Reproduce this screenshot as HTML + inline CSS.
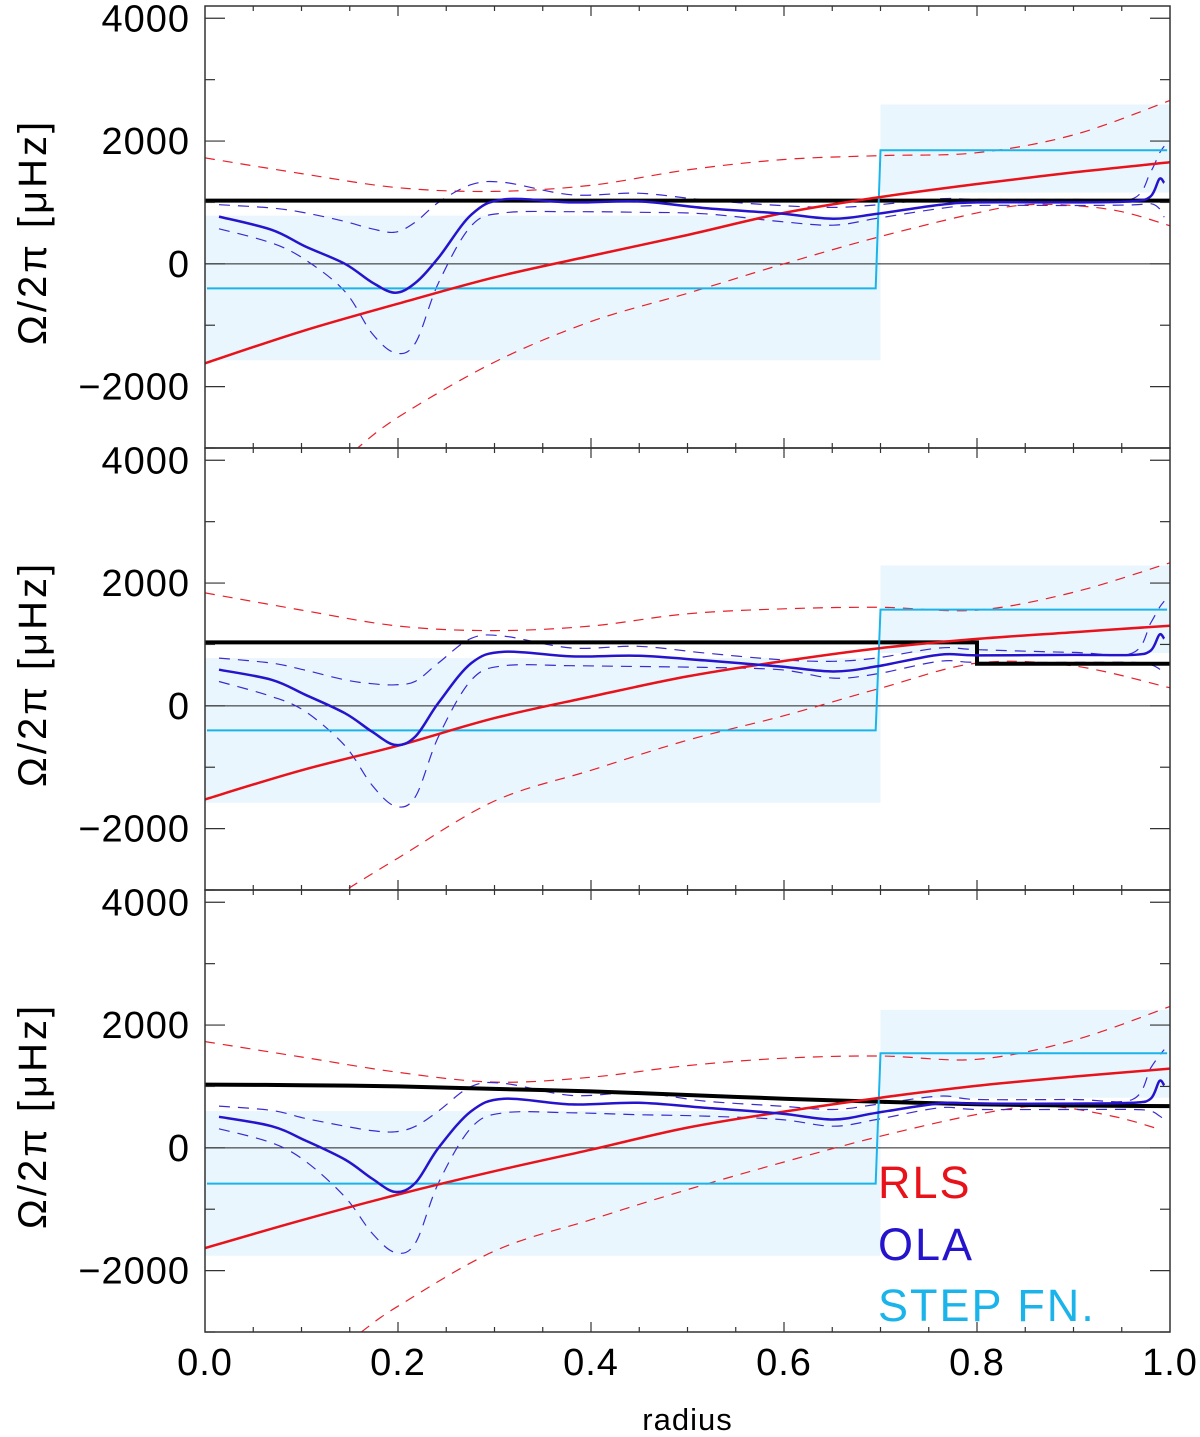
<!DOCTYPE html>
<html><head><meta charset="utf-8"><style>
html,body{margin:0;padding:0;background:#fff;}
svg{display:block;font-family:"Liberation Sans",sans-serif;}
</style></head><body>
<svg id="chart" width="1200" height="1437" viewBox="0 0 1200 1437" xmlns="http://www.w3.org/2000/svg">
<defs>
<clipPath id="clip0"><rect x="205" y="6" width="965" height="442"/></clipPath>
<clipPath id="clip1"><rect x="205" y="448" width="965" height="442"/></clipPath>
<clipPath id="clip2"><rect x="205" y="890" width="965" height="442"/></clipPath>
</defs>
</svg>
<script>
// ---- data ----
const yTickValues = [4000, 2000, 0, -2000];
const yTickLabels = ["4000", "2000", "0", "\u22122000"];
const yMinorValues = [3000, 1000, -1000, -3000];
const xTickValues = [0.0, 0.2, 0.4, 0.6, 0.8, 1.0];
const xTickLabels = ["0.0", "0.2", "0.4", "0.6", "0.8", "1.0"];

const olaR = [0.0145,0.069,0.104,0.145,0.173,0.197,0.218,0.242,0.276,0.31,0.38,0.449,0.518,0.596,0.651,0.696,0.761,0.8,0.9,0.961,0.98,0.989,0.994];
const p1Ola   = [770,555,283,0,-300,-470,-310,100,800,1050,1000,1017,908,820,735,814,960,1000,1000,1020,1100,1383,1318];
const p1OlaHi = [963,910,830,690,570,515,680,1000,1290,1327,1125,1150,1040,950,920,960,1060,1050,1050,1060,1500,1800,1916];
const p1OlaLo = [571,340,65,-450,-1130,-1450,-1290,-310,620,830,850,840,815,690,630,740,900,950,950,960,980,900,760];
const p2Ola   = [588,424,180,-120,-420,-637,-500,50,696,882,805,815,740,640,560,642,833,822,830,830,900,1159,1094];
const p2OlaHi = [778,696,580,424,360,343,400,700,1100,1135,942,969,860,751,725,780,942,915,870,860,1350,1600,1703];
const p2OlaLo = [397,152,-93,-650,-1290,-1633,-1480,-500,420,653,653,640,626,588,452,520,725,707,707,707,670,600,533];
const p3Ola   = [506,353,120,-190,-500,-718,-571,0,598,800,707,734,652,560,462,571,723,720,720,734,800,1088,1017];
const p3OlaHi = [680,609,480,353,280,261,350,600,1000,1050,853,897,761,680,625,707,843,788,788,788,1300,1500,1600];
const p3OlaLo = [310,82,-218,-800,-1388,-1704,-1551,-571,330,571,571,540,517,462,353,462,652,625,625,625,600,520,462];

const rlsR = [0,0.1,0.2,0.3,0.4,0.5,0.6,0.7,0.8,0.9,1.0];
const p1Rls   = [-1620,-1100,-650,-220,130,470,830,1088,1300,1490,1654];
const p1RlsHi = [1725,1470,1240,1180,1280,1530,1700,1763,1810,2100,2660];
const p2Rls   = [-1524,-1050,-650,-200,150,480,730,941,1090,1200,1306];
const p2RlsHi = [1840,1560,1300,1225,1300,1500,1580,1605,1560,1850,2330];
const p3Rls   = [-1633,-1180,-760,-380,-30,330,590,816,1010,1160,1290];
const p3RlsHi = [1731,1480,1230,1070,1150,1340,1460,1496,1442,1750,2302];

const p1RlsLoR = [0.155,0.2,0.3,0.4,0.5,0.6,0.7,0.8,0.85,0.9,0.95,1.0];
const p1RlsLo  = [-3040,-2500,-1600,-940,-480,0,446,830,960,950,850,620];
const p2RlsLoR = [0.149,0.2,0.3,0.4,0.5,0.6,0.7,0.8,0.9,1.0];
const p2RlsLo  = [-2970,-2480,-1550,-1050,-560,-160,288,696,650,294];
const p3RlsLoR = [0.162,0.2,0.3,0.4,0.5,0.6,0.7,0.8,0.87,0.94,0.99];
const p3RlsLo  = [-3000,-2580,-1680,-1170,-680,-230,190,544,680,517,299];

const p1TrueR = [0,1.0];
const p1True  = [1030,1030];
const p2TrueR = [0,0.8,0.8,1.0];
const p2True  = [1033,1033,686,686];
const p3TrueR = [0,0.1,0.2,0.3,0.4,0.5,0.6,0.7,0.8,0.9,1.0];
const p3True  = [1030,1020,1000,960,920,860,800,750,710,690,680];

const stepBreak = 0.7;
const stepInner = [-400, -400, -583];
const stepOuter = [1850, 1567, 1540];
const boxInnerLo = [-1570, -1578, -1758];
const boxInnerHi = [784, 778, 598];
const boxOuterLo = [1160, 860, 816];
const boxOuterHi = [2596, 2286, 2247];

const legendLabels = ["RLS", "OLA", "STEP FN."];

// ---- layout ----
const X0 = 205, X1 = 1170, PH = 442;
const panelTops = [6, 448, 890];
const YMAX = 4200, YMIN = -3000;
const svg = document.getElementById('chart');
const NS = 'http://www.w3.org/2000/svg';
function xs(r){ return X0 + r*(X1-X0); }
function ys(v, p){ return panelTops[p] + (YMAX - v)/(YMAX-YMIN)*PH; }
function mk(tag, attrs, parent){
  const e = document.createElementNS(NS, tag);
  for (const k in attrs) e.setAttribute(k, attrs[k]);
  (parent||svg).appendChild(e);
  return e;
}
function pathD(rs, vs, p){
  return rs.map((r,i)=>(i?'L':'M')+xs(r).toFixed(1)+','+ys(vs[i],p).toFixed(1)).join(' ');
}
function smoothD(rs, vs, p){
  const pts = rs.map((r,i)=>[xs(r), ys(vs[i],p)]);
  let d = 'M'+pts[0][0].toFixed(1)+','+pts[0][1].toFixed(1);
  for (let i=0;i<pts.length-1;i++){
    const p0 = pts[Math.max(0,i-1)], p1 = pts[i], p2 = pts[i+1], p3 = pts[Math.min(pts.length-1,i+2)];
    const c1x = p1[0]+(p2[0]-p0[0])/6, c1y = p1[1]+(p2[1]-p0[1])/6;
    const c2x = p2[0]-(p3[0]-p1[0])/6, c2y = p2[1]-(p3[1]-p1[1])/6;
    d += ' C'+c1x.toFixed(1)+','+c1y.toFixed(1)+' '+c2x.toFixed(1)+','+c2y.toFixed(1)+' '+p2[0].toFixed(1)+','+p2[1].toFixed(1);
  }
  return d;
}

const panels = [
  {ola:p1Ola,hi:p1OlaHi,lo:p1OlaLo,rls:p1Rls,rhi:p1RlsHi,rloR:p1RlsLoR,rlo:p1RlsLo,tR:p1TrueR,t:p1True,smoothT:false},
  {ola:p2Ola,hi:p2OlaHi,lo:p2OlaLo,rls:p2Rls,rhi:p2RlsHi,rloR:p2RlsLoR,rlo:p2RlsLo,tR:p2TrueR,t:p2True,smoothT:false},
  {ola:p3Ola,hi:p3OlaHi,lo:p3OlaLo,rls:p3Rls,rhi:p3RlsHi,rloR:p3RlsLoR,rlo:p3RlsLo,tR:p3TrueR,t:p3True,smoothT:true}
];

panels.forEach((P, p) => {
  const g = mk('g', {'clip-path':'url(#clip'+p+')'});
  
  
  let b = mk('rect', {x:xs(0), y:ys(boxInnerHi[p],p), width:xs(stepBreak)-xs(0), height:ys(boxInnerLo[p],p)-ys(boxInnerHi[p],p), fill:'#eaf6fd'}, g);
  
  
  b = mk('rect', {x:xs(stepBreak), y:ys(boxOuterHi[p],p), width:xs(1)-xs(stepBreak), height:ys(boxOuterLo[p],p)-ys(boxOuterHi[p],p), fill:'#eaf6fd'}, g);
  
  
  let z = mk('line', {x1:X0, x2:X1, y1:ys(0,p), y2:ys(0,p), stroke:'#222', 'stroke-width':1}, g);
  
  
  let e = mk('path', {d:smoothD(rlsR, P.rhi, p), fill:'none', stroke:'#e8202a', 'stroke-width':1.2, 'stroke-dasharray':'10,8'}, g);
  
  
  e = mk('path', {d:smoothD(P.rloR, P.rlo, p), fill:'none', stroke:'#e8202a', 'stroke-width':1.2, 'stroke-dasharray':'10,8'}, g);
  
  
  e = mk('path', {d:smoothD(olaR, P.hi, p), fill:'none', stroke:'#3a2bd0', 'stroke-width':1.2, 'stroke-dasharray':'11,8'}, g);
  
  
  e = mk('path', {d:smoothD(olaR, P.lo, p), fill:'none', stroke:'#3a2bd0', 'stroke-width':1.2, 'stroke-dasharray':'11,8'}, g);
  
  
  e = mk('path', {d:(P.smoothT ? smoothD(P.tR, P.t, p) : pathD(P.tR, P.t, p)), fill:'none', stroke:'#000', 'stroke-width':4}, g);
  
  
  const sd = 'M'+xs(0.002)+','+ys(stepInner[p],p)+' L'+xs(stepBreak-0.005)+','+ys(stepInner[p],p)+' L'+xs(stepBreak)+','+ys(stepOuter[p],p)+' L'+xs(0.997)+','+ys(stepOuter[p],p);
  e = mk('path', {d:sd, fill:'none', stroke:'#1ab4ea', 'stroke-width':2}, g);
  
  
  e = mk('path', {d:smoothD(rlsR, P.rls, p), fill:'none', stroke:'#e8121a', 'stroke-width':2.5}, g);
  
  
  e = mk('path', {d:smoothD(olaR, P.ola, p), fill:'none', stroke:'#2514cc', 'stroke-width':2.5, 'stroke-linejoin':'round'}, g);
  
  

  const top = panelTops[p];
  let f = mk('rect', {x:X0, y:top, width:X1-X0, height:PH, fill:'none', stroke:'#333', 'stroke-width':1.5});
  
  
  yTickValues.forEach((v,i) => {
    const y = ys(v,p);
    let t = mk('line', {x1:X0, x2:X0+20, y1:y, y2:y, stroke:'#333', 'stroke-width':1.2});
    
    
    t = mk('line', {x1:X1-20, x2:X1, y1:y, y2:y, stroke:'#333', 'stroke-width':1.2});
    
    
    const lb = mk('text', {x:190, y:y+13, 'text-anchor':'end', 'font-size':38, fill:'#000', 'letter-spacing':'1'});
    
    
    lb.textContent = yTickLabels[i];
  });
  yMinorValues.forEach(v => {
    const y = ys(v,p);
    let t = mk('line', {x1:X0, x2:X0+10, y1:y, y2:y, stroke:'#333', 'stroke-width':1.2});
    
    
    t = mk('line', {x1:X1-10, x2:X1, y1:y, y2:y, stroke:'#333', 'stroke-width':1.2});
    
    
  });
  for (let k=1; k<20; k++){
    const r = k*0.05, x = xs(r);
    const len = (k%4===0) ? 10 : 5;
    let t = mk('line', {x1:x, x2:x, y1:top+PH, y2:top+PH-len, stroke:'#333', 'stroke-width':1.2});
    
    
    t = mk('line', {x1:x, x2:x, y1:top, y2:top+len, stroke:'#333', 'stroke-width':1.2});
    
    
  }
  const yt = mk('text', {x:0, y:0, transform:'translate(46,'+(top+226)+') rotate(-90)', 'text-anchor':'middle', 'font-size':40, fill:'#000', 'letter-spacing':'3'});
  
  
  yt.textContent = '\u03A9/2\u03C0  [\u03BCHz]';
});

xTickValues.forEach((r,i) => {
  const t = mk('text', {x:xs(r), y:1375, 'text-anchor':'middle', 'font-size':38, fill:'#000', 'letter-spacing':'1'});
  
  
  t.textContent = xTickLabels[i];
});
const xt = mk('text', {x:(X0+X1)/2, y:1430, 'text-anchor':'middle', 'font-size':31, fill:'#000', 'letter-spacing':'1'});


xt.textContent = 'radius';

const legendColors = ['#e8121a', '#2514cc', '#1ab4ea'];
const legendY = [1198, 1260, 1321];
legendLabels.forEach((s,i) => {
  const t = mk('text', {x:878, y:legendY[i], 'font-size':45, fill:legendColors[i], 'letter-spacing':'2'});
  
  
  t.textContent = s;
});
</script>
</body></html>
